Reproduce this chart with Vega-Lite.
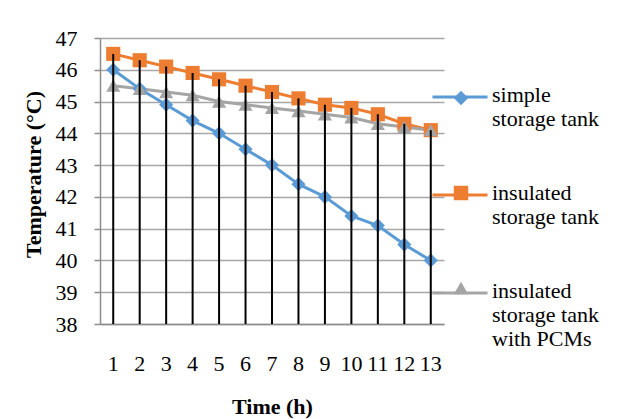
{
  "$schema": "https://vega.github.io/schema/vega-lite/v6.json",
  "width": 344,
  "height": 286,
  "autosize": {"type": "none"},
  "padding": {"left": 100, "top": 38, "right": 190, "bottom": 95},
  "background": "white",
  "config": {
    "view": {"stroke": null},
    "axisX": {"labelFont": "Liberation Serif", "titleFont": "Liberation Serif"},
    "axisY": {"labelFont": "Liberation Serif", "titleFont": "Liberation Serif"},
    "axis": {
      "labelColor": "black",
      "titleColor": "black",
      "labelFontSize": 22,
      "titleFontSize": 22,
      "titleFontWeight": "bold",
      "domainColor": "#8c8c8c",
      "domainWidth": 1.5,
      "tickColor": "#8c8c8c",
      "tickWidth": 1.5
    },
    "legend": {
      "labelFont": "Liberation Serif",
      "labelFontSize": 22,
      "labelColor": "black",
      "padding": 0
    }
  },
  "data": {
    "values": [
      {"time": 1, "series": "simple storage tank", "temp": 46.0},
      {"time": 2, "series": "simple storage tank", "temp": 45.4},
      {"time": 3, "series": "simple storage tank", "temp": 44.9},
      {"time": 4, "series": "simple storage tank", "temp": 44.4},
      {"time": 5, "series": "simple storage tank", "temp": 44.0},
      {"time": 6, "series": "simple storage tank", "temp": 43.5},
      {"time": 7, "series": "simple storage tank", "temp": 43.0},
      {"time": 8, "series": "simple storage tank", "temp": 42.4},
      {"time": 9, "series": "simple storage tank", "temp": 42.0},
      {"time": 10, "series": "simple storage tank", "temp": 41.4},
      {"time": 11, "series": "simple storage tank", "temp": 41.1},
      {"time": 12, "series": "simple storage tank", "temp": 40.5},
      {"time": 13, "series": "simple storage tank", "temp": 40.0},
      {"time": 1, "series": "insulated storage tank", "temp": 46.5},
      {"time": 2, "series": "insulated storage tank", "temp": 46.3},
      {"time": 3, "series": "insulated storage tank", "temp": 46.1},
      {"time": 4, "series": "insulated storage tank", "temp": 45.9},
      {"time": 5, "series": "insulated storage tank", "temp": 45.7},
      {"time": 6, "series": "insulated storage tank", "temp": 45.5},
      {"time": 7, "series": "insulated storage tank", "temp": 45.3},
      {"time": 8, "series": "insulated storage tank", "temp": 45.1},
      {"time": 9, "series": "insulated storage tank", "temp": 44.9},
      {"time": 10, "series": "insulated storage tank", "temp": 44.8},
      {"time": 11, "series": "insulated storage tank", "temp": 44.6},
      {"time": 12, "series": "insulated storage tank", "temp": 44.3},
      {"time": 13, "series": "insulated storage tank", "temp": 44.1},
      {"time": 1, "series": "insulated storage tank with PCMs", "temp": 45.5},
      {"time": 2, "series": "insulated storage tank with PCMs", "temp": 45.4},
      {"time": 3, "series": "insulated storage tank with PCMs", "temp": 45.3},
      {"time": 4, "series": "insulated storage tank with PCMs", "temp": 45.2},
      {"time": 5, "series": "insulated storage tank with PCMs", "temp": 45.0},
      {"time": 6, "series": "insulated storage tank with PCMs", "temp": 44.9},
      {"time": 7, "series": "insulated storage tank with PCMs", "temp": 44.8},
      {"time": 8, "series": "insulated storage tank with PCMs", "temp": 44.7},
      {"time": 9, "series": "insulated storage tank with PCMs", "temp": 44.6},
      {"time": 10, "series": "insulated storage tank with PCMs", "temp": 44.5},
      {"time": 11, "series": "insulated storage tank with PCMs", "temp": 44.3},
      {"time": 12, "series": "insulated storage tank with PCMs", "temp": 44.2},
      {"time": 13, "series": "insulated storage tank with PCMs", "temp": 44.1}
    ]
  },
  "encoding": {
    "x": {
      "field": "time",
      "type": "ordinal",
      "axis": {
        "labelFont": "Liberation Serif",
        "titleFont": "Liberation Serif",
        "labelAngle": 0,
        "ticks": false,
        "labelPadding": 29,
        "labelOverlap": false,
        "title": "Time (h)",
        "titlePadding": 22,
        "grid": false
      }
    },
    "y": {
      "field": "temp",
      "type": "quantitative",
      "scale": {"domain": [38, 47], "nice": false, "zero": false},
      "axis": {
        "labelFont": "Liberation Serif",
        "titleFont": "Liberation Serif",
        "values": [38, 39, 40, 41, 42, 43, 44, 45, 46, 47],
        "tickSize": 6,
        "labelPadding": 17,
        "grid": true,
        "gridColor": "#a6a6a6",
        "gridWidth": 1.3,
        "title": "Temperature (°C)",
        "titlePadding": 10,
        "titleY": 136
      }
    }
  },
  "layer": [
    {
      "mark": {"type": "line", "strokeWidth": 3},
      "encoding": {
        "color": {
          "field": "series",
          "type": "nominal",
          "scale": {
            "domain": ["simple storage tank", "insulated storage tank", "insulated storage tank with PCMs"],
            "range": ["#5b9bd5", "#ed7d31", "#a5a5a5"]
          },
          "legend": {
            "title": null,
            "orient": "none",
            "legendX": 331,
            "legendY": 18,
            "symbolType": "M-1,0.44H1",
            "symbolSize": 3025,
            "symbolStrokeWidth": 3,
            "labelFont": "Liberation Serif",
            "labelFontSize": 22,
            "labelBaseline": "top",
            "labelOffset": 3,
            "labelLimit": 0,
            "rowPadding": 24,
            "labelExpr": "datum.label == 'simple storage tank' ? ['simple', 'storage tank'] : datum.label == 'insulated storage tank' ? ['insulated', 'storage tank'] : ['insulated', 'storage tank', 'with PCMs']"
          }
        }
      }
    },
    {
      "mark": {"type": "point", "filled": true, "size": 200, "opacity": 1},
      "encoding": {
        "color": {
          "field": "series",
          "type": "nominal",
          "scale": {
            "domain": ["simple storage tank", "insulated storage tank", "insulated storage tank with PCMs"],
            "range": ["#5b9bd5", "#ed7d31", "#a5a5a5"]
          },
          "legend": {
            "title": null,
            "orient": "none",
            "legendX": 350,
            "legendY": 49,
            "symbolSize": 210,
            "symbolOpacity": 1,
            "symbolStrokeWidth": 0,
            "labelFont": "Liberation Serif",
            "labelFontSize": 22,
            "labelBaseline": "top",
            "labelOffset": 3,
            "labelLimit": 0,
            "labelOpacity": 0,
            "rowPadding": 39,
            "labelExpr": "datum.label == 'simple storage tank' ? ['simple', 'storage tank'] : datum.label == 'insulated storage tank' ? ['insulated', 'storage tank'] : ['insulated', 'storage tank', 'with PCMs']"
          }
        },
        "shape": {
          "field": "series",
          "type": "nominal",
          "scale": {
            "domain": ["simple storage tank", "insulated storage tank", "insulated storage tank with PCMs"],
            "range": ["diamond", "square", "triangle-up"]
          },
          "legend": {
            "title": null,
            "orient": "none",
            "legendX": 350,
            "legendY": 49,
            "symbolSize": 210,
            "symbolOpacity": 1,
            "symbolStrokeWidth": 0,
            "labelFont": "Liberation Serif",
            "labelFontSize": 22,
            "labelBaseline": "top",
            "labelOffset": 3,
            "labelLimit": 0,
            "labelOpacity": 0,
            "rowPadding": 39,
            "labelExpr": "datum.label == 'simple storage tank' ? ['simple', 'storage tank'] : datum.label == 'insulated storage tank' ? ['insulated', 'storage tank'] : ['insulated', 'storage tank', 'with PCMs']"
          }
        }
      }
    },
    {
      "transform": [
        {"aggregate": [{"op": "max", "field": "temp", "as": "top"}], "groupby": ["time"]}
      ],
      "mark": {"type": "rule", "color": "black", "strokeWidth": 2},
      "encoding": {
        "y": {"field": "top", "type": "quantitative"},
        "y2": {"datum": 38}
      }
    }
  ],
  "resolve": {
    "scale": {"color": "independent", "shape": "independent"},
    "legend": {"color": "independent", "shape": "independent"}
  }
}
